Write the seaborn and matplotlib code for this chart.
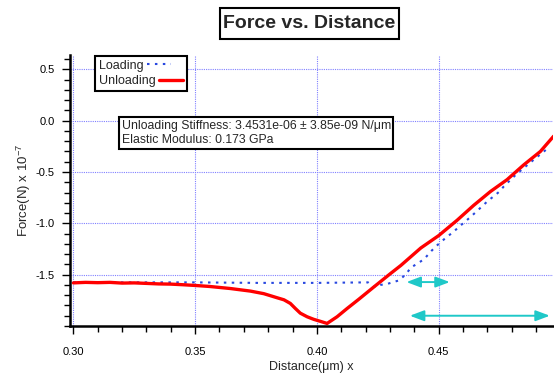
import numpy as np
import pandas as pd
import matplotlib
matplotlib.use("Agg")
import matplotlib.pyplot as plt
from matplotlib.ticker import MultipleLocator, FixedLocator, FormatStrFormatter
from matplotlib.patches import Rectangle
import seaborn as sns

# ---- data (Force in units of 1e-7 N, distance in um) ----
unload_x = [0.300, 0.305, 0.310, 0.315, 0.320, 0.325, 0.330, 0.335, 0.340, 0.345,
            0.350, 0.356, 0.3645, 0.3727, 0.3782, 0.3837, 0.3865, 0.3891, 0.3912,
            0.3932, 0.3960, 0.3987, 0.4015, 0.4042, 0.4083, 0.4124, 0.4172, 0.4234,
            0.4302, 0.4345, 0.4427, 0.4500, 0.4576, 0.4644, 0.4713, 0.4781, 0.4850,
            0.4918, 0.4973]
unload_y = [-1.580, -1.575, -1.578, -1.575, -1.582, -1.580, -1.585, -1.590, -1.592, -1.598,
            -1.605, -1.615, -1.635, -1.660, -1.685, -1.725, -1.745, -1.780, -1.830,
            -1.875, -1.910, -1.935, -1.955, -1.975, -1.910, -1.830, -1.740, -1.620,
            -1.490, -1.410, -1.240, -1.120, -0.970, -0.825, -0.690, -0.575, -0.430,
            -0.300, -0.150]

load_x = [0.300, 0.350, 0.375, 0.400, 0.421, 0.4234, 0.4261, 0.4289, 0.4337, 0.4364,
          0.4387, 0.4414, 0.4440, 0.4470, 0.4491, 0.4535, 0.4560, 0.4583, 0.4606,
          0.4630, 0.4658, 0.4703, 0.4730, 0.4750, 0.4768, 0.4820, 0.4891, 0.4943]
load_y = [-1.575, -1.575, -1.580, -1.580, -1.575, -1.620, -1.600, -1.590, -1.556, -1.500,
          -1.430, -1.390, -1.350, -1.270, -1.220, -1.130, -1.086, -1.035, -0.990,
          -0.940, -0.880, -0.780, -0.730, -0.690, -0.640, -0.520, -0.380, -0.280]

arrow_y = [-1.572, -1.900]
arrow_x0 = [0.4368, 0.4382]
arrow_x1 = [0.4546, 0.4957]

y_major = [-1.5, -1.0, -0.5, 0.0, 0.5]
title = "Force vs. Distance"
legend_labels = ["Loading", "Unloading"]
note = "Unloading Stiffness: 3.4531e-06 \u00b1 3.85e-09 N/\u03bcm\nElastic Modulus: 0.173 GPa"

# ---- style ----
sns.set_style("white")
plt.rcParams["font.family"] = ["Liberation Sans", "DejaVu Sans"]
plt.rcParams["axes.unicode_minus"] = False
plt.rcParams["mathtext.default"] = "regular"

W, H = 554, 375
fig = plt.figure(figsize=(W / 100, H / 100), dpi=100)
ax = fig.add_axes([70 / W, (H - 326) / H, (553 - 70) / W, (326 - 55) / H])

df_load = pd.DataFrame({"x": load_x, "y": load_y})
df_unload = pd.DataFrame({"x": unload_x, "y": unload_y})

sns.lineplot(data=df_load, x="x", y="y", ax=ax, sort=False, estimator=None,
             color="#2848e0", lw=1.5, linestyle=(0, (1.2, 2.6)), label=legend_labels[0])
sns.lineplot(data=df_unload, x="x", y="y", ax=ax, sort=False, estimator=None,
             color="#ff0000", lw=2.4, label=legend_labels[1])

for x0, x1, y in zip(arrow_x0, arrow_x1, arrow_y):
    ax.annotate("", xy=(x1, y), xytext=(x0, y),
                arrowprops=dict(arrowstyle="<|-|>,head_length=0.85,head_width=0.32",
                                mutation_scale=10, color="#1fc8c8", lw=1.4,
                                shrinkA=0, shrinkB=0))

ax.set_xlim(0.2986, 0.4970)
ax.set_ylim(-2.0, 0.64)

ax.xaxis.set_major_locator(MultipleLocator(0.05))
ax.xaxis.set_minor_locator(MultipleLocator(0.01))
ax.yaxis.set_major_locator(FixedLocator(y_major))
ax.yaxis.set_minor_locator(MultipleLocator(0.1))
ax.xaxis.set_major_formatter(FormatStrFormatter("%.2f"))
ax.yaxis.set_major_formatter(FormatStrFormatter("%.1f"))

ax.grid(True, which="major", color="#8080ff", linestyle=(0, (1, 1)), lw=0.8)
ax.set_axisbelow(True)

for s in ["top", "right"]:
    ax.spines[s].set_visible(False)
for s in ["left", "bottom"]:
    ax.spines[s].set_linewidth(1.8)
    ax.spines[s].set_color("black")

ax.tick_params(which="major", direction="out", length=6, width=1.0, colors="black",
               labelsize=8, left=True, bottom=True)
ax.tick_params(which="minor", direction="out", length=4, width=1.0, colors="black",
               left=True, bottom=True)
ax.tick_params(axis="x", which="major", pad=9)
ax.tick_params(axis="y", which="major", pad=5)

ax.set_xlabel("Distance(\u03bcm) x", fontsize=9, labelpad=3)
ax.set_ylabel("Force(N) x 10$^{-7}$", fontsize=9.5, labelpad=2)

leg = ax.legend(loc="upper left", bbox_to_anchor=(95 / W, 1 - 56 / H),
                bbox_transform=fig.transFigure, markerfirst=False, fontsize=9,
                handlelength=1.9, handletextpad=0.3, labelspacing=0.28,
                borderpad=0.3, borderaxespad=0, fancybox=False, framealpha=1)
leg.get_frame().set_edgecolor("black")
leg.get_frame().set_linewidth(1.5)
# keep labels left-aligned with the line samples after the text
for col in leg._legend_handle_box.get_children():
    col.align = "left"

fig.patches.append(Rectangle((220 / W, 1 - 39 / H), 179 / W, 31 / H,
                             transform=fig.transFigure, fc="white", ec="black",
                             lw=1.5, zorder=1))
fig.text(309.5 / W, 1 - 24 / H, title, ha="center", va="center", fontsize=14,
         fontweight="bold", zorder=2)

fig.text(121.5 / W, 1 - 133 / H, note, ha="left", va="center", fontsize=8.8,
         linespacing=1.3,
         bbox=dict(boxstyle="square,pad=0.2", fc="white", ec="black", lw=1.5))

fig.savefig("out.png", dpi=100)
